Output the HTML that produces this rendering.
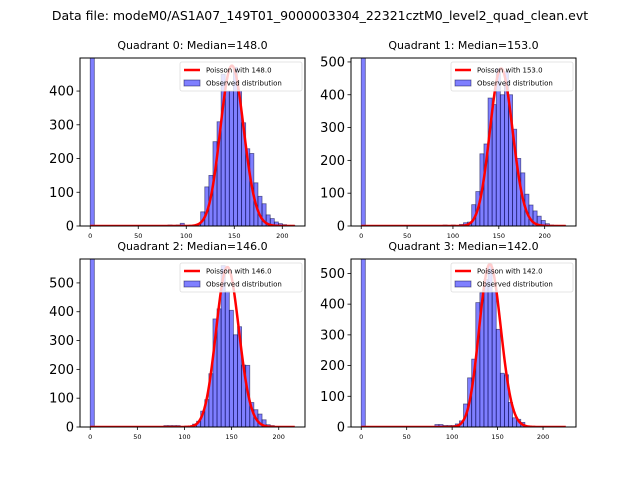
<!DOCTYPE html>
<html><head><meta charset="utf-8"><style>
html,body{margin:0;padding:0;background:#fff;}
svg{display:block;font-family:"DejaVu Sans","Liberation Sans",sans-serif;}
</style></head><body>
<svg id="fig" width="640" height="480" viewBox="0 0 640 480" xmlns="http://www.w3.org/2000/svg">
<rect width="640" height="480" fill="#fff"/>
<text x="320" y="20" font-size="12.5" text-anchor="middle">Data file: modeM0/AS1A07_149T01_9000003304_22321cztM0_level2_quad_clean.evt</text>
</svg>
<script>
const quadrantNames = ["Quadrant 0","Quadrant 1","Quadrant 2","Quadrant 3"];
const medians = [148.0, 153.0, 146.0, 142.0];
const maxValues = [213, 223, 217, 225];
const yLimits = [498, 512, 583, 547];
const yTicks0 = [0,100,200,300,400];
const yTicks1 = [0,100,200,300,400,500];
const yTicks2 = [0,100,200,300,400,500];
const yTicks3 = [0,100,200,300,400,500];
const xTicks = [0,50,100,150,200];
const poissonPeaks = [475, 480, 555, 530];
const counts0 = [5000,0,0,0,0,0,0,0,0,0,0,0,0,0,0,0,0,0,0,3,2,3,8,2,0,2,5,42,116,150,250,309,450,400,400,470,400,306,229,215,128,88,66,33,22,12,7,4,2,2];
const counts1 = [5000,0,0,0,0,0,0,0,0,0,0,0,0,0,0,0,0,0,0,0,3,0,3,0,5,10,12,65,105,220,250,390,370,480,400,470,400,295,206,162,97,64,46,30,17,7,3,2,1,1];
const counts2 = [5000,0,0,0,0,0,0,0,0,0,0,0,0,0,0,0,0,0,5,5,5,5,0,3,3,10,20,55,95,185,375,410,560,470,405,320,348,215,214,85,60,45,25,8,5,2,1,0,0,0];
const counts3 = [5000,0,0,0,0,0,0,0,0,0,0,0,0,0,0,0,0,0,8,8,5,5,5,10,20,75,160,221,405,437,480,530,440,318,175,170,80,30,25,15,3,1,0,0,0,0,0,0,0,0];
const allCounts = [counts0, counts1, counts2, counts3];
const allYTicks = [yTicks0, yTicks1, yTicks2, yTicks3];

const NS = "http://www.w3.org/2000/svg";
const svg = document.getElementById('fig');
function mk(tag, attrs, parent){ const e=document.createElementNS(NS,tag); for(const k in attrs) e.setAttribute(k,attrs[k]); (parent||svg).appendChild(e); return e; }
const boxes = [[80,58,305,226],[351,58,576,226],[80,259,305,427],[351,259,576,427]];
function logPmf(k, lam){ let lf=0; for(let i=2;i<=k;i++) lf+=Math.log(i); return k*Math.log(lam)-lam-lf; }

for(let q=0;q<4;q++){
  const [x0,y0,x1,y1]=boxes[q];
  const mx=maxValues[q], counts=allCounts[q];
  const xmin=-0.05*mx, xmax=1.05*mx;
  const X=v=>x0+(v-xmin)/(xmax-xmin)*(x1-x0);
  const Y=v=>y1-v/yLimits[q]*(y1-y0);
  const g=mk('g',{});
  
  
  const cp=mk('clipPath',{id:'c'+q},g); mk('rect',{x:x0,y:y0,width:x1-x0,height:y1-y0},cp);
  const t=mk('text',{x:(x0+x1)/2,y:y0-9,'font-size':11,'text-anchor':'middle'},g);
   
  t.textContent=quadrantNames[q]+": Median="+medians[q].toFixed(1);
  const bars=mk('g',{'clip-path':'url(#c'+q+')'},g);
  const bw=mx/counts.length;
  counts.forEach((c,i)=>{
    if(c<=0) return;
    const r=mk('rect',{x:X(i*bw),y:Y(c),width:X((i+1)*bw)-X(i*bw),height:Y(0)-Y(c),fill:'rgba(0,0,255,0.5)',stroke:'rgba(0,0,60,0.55)','stroke-width':0.8},bars);
     
  });
  const lam=medians[q], scale=poissonPeaks[q]/Math.exp(logPmf(Math.floor(lam),lam));
  let d='';
  for(let k=0;k<=mx;k++){ const v=scale*Math.exp(logPmf(k,lam)); d+=(k?'L':'M')+X(k).toFixed(2)+','+Y(v).toFixed(2); }
  const pl=mk('path',{d:d,fill:'none',stroke:'#ff0000','stroke-width':2.5,'clip-path':'url(#c'+q+')'},g);
   
  const fr=mk('rect',{x:x0,y:y0,width:x1-x0,height:y1-y0,fill:'none',stroke:'#000','stroke-width':1},g);
   
  xTicks.forEach(v=>{
    mk('line',{x1:X(v),x2:X(v),y1:y1,y2:y1+3,stroke:'#000','stroke-width':0.8},g);
    const tx=mk('text',{x:X(v),y:y1+12,'font-size':6.5,'text-anchor':'middle'},g);
     
    tx.textContent=v;
  });
  allYTicks[q].forEach(v=>{
    mk('line',{x1:x0-3.5,x2:x0,y1:Y(v),y2:Y(v),stroke:'#000','stroke-width':0.8},g);
    const ty=mk('text',{x:x0-6,y:Y(v)+4.5,'font-size':13,'text-anchor':'end'},g);
     
    ty.textContent=v;
  });
  const lg=mk('g',{},g);
   
  const lx=x1-125, ly=y0+4;
  mk('rect',{x:lx,y:ly,width:122,height:29,fill:'rgba(255,255,255,0.8)',stroke:'#ddd','stroke-width':0.8,rx:2},lg);
  mk('line',{x1:lx+4,x2:lx+20,y1:ly+8,y2:ly+8,stroke:'#ff0000','stroke-width':2.5},lg);
  const l1=mk('text',{x:lx+26,y:ly+10.5,'font-size':7},lg); l1.textContent="Poisson with "+medians[q].toFixed(1);
   
  mk('rect',{x:lx+4,y:ly+18,width:16,height:6,fill:'rgba(0,0,255,0.5)',stroke:'rgba(0,0,60,0.55)','stroke-width':0.8},lg);
  const l2=mk('text',{x:lx+26,y:ly+23.5,'font-size':7},lg); l2.textContent="Observed distribution";
   
}
</script>
</body></html>
